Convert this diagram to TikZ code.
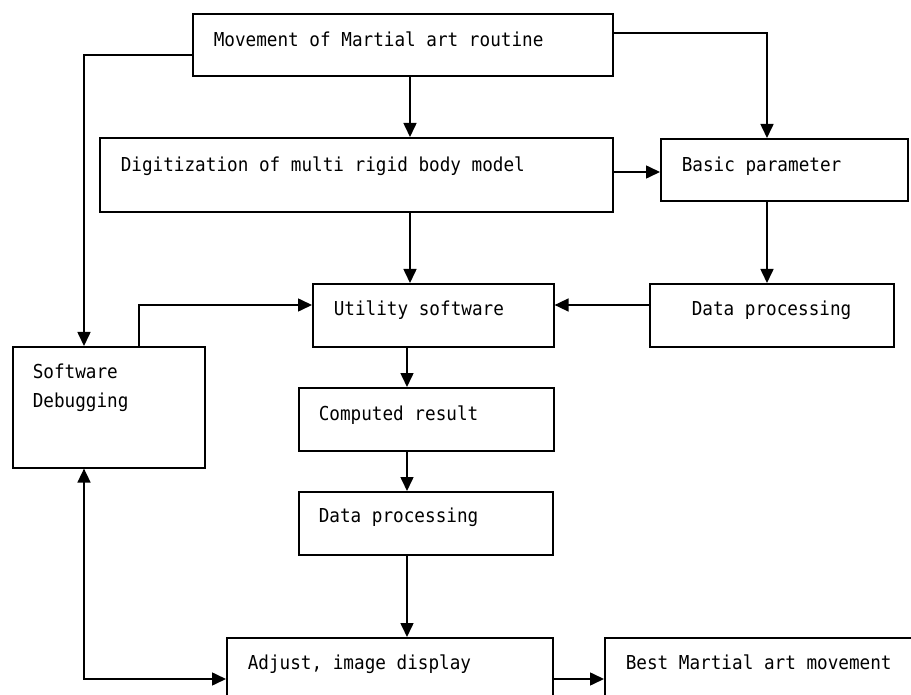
\documentclass[tikz,border=0pt]{standalone}
\usepackage{fontspec}
\setmonofont[FakeStretch=0.92]{DejaVu Sans Mono}
\usetikzlibrary{arrows.meta}
\tikzset{
  box/.style={draw, line width=1.6pt, inner sep=0pt, anchor=north west, align=left,
    font=\ttfamily\fontsize{19.2}{29}\selectfont,
    execute at begin node={\spaceskip=10.63pt\relax}},
  arr/.style={line width=1.6pt, -{Triangle[length=14pt,width=13pt]}},
  darr/.style={line width=1.6pt, {Triangle[length=14pt,width=13pt]}-{Triangle[length=14pt,width=13pt]}},
}
\begin{document}
\begin{tikzpicture}[x=1pt,y=-1pt]
\useasboundingbox (0,0) rectangle (911,695);
\clip (0,0) rectangle (911,695);
\fill[white] (0,0) rectangle (911,695);
% boxes
\node[box, text width=420pt, text height=33pt, text depth=29pt] (b1) at (192,13) {\hspace*{21pt}Movement of Martial art routine};
\node[box, text width=513pt, text height=34pt, text depth=40pt] (b2) at (99,137) {\hspace*{21pt}Digitization of multi rigid body model};
\node[box, text width=247pt, text height=33pt, text depth=29pt] (b3) at (660,138) {\hspace*{21pt}Basic parameter};
\node[box, text width=241pt, text height=32pt, text depth=31pt] (util) at (312,283) {\hspace*{21pt}Utility software};
\node[box, text width=244pt, text height=32pt, text depth=31pt] (dr) at (649,283) {\hspace*{42pt}Data processing};
\node[box, text width=192pt, text height=32pt, text depth=89pt] (soft) at (12,346) {\hspace*{20pt}Software\\\hspace*{20pt}Debugging};
\node[box, text width=255pt, text height=33pt, text depth=30pt] (comp) at (298,387) {\hspace*{20pt}Computed result};
\node[box, text width=254pt, text height=31pt, text depth=32pt] (dm) at (298,491) {\hspace*{20pt}Data processing};
\node[box, text width=326pt, text height=32pt, text depth=48pt] (adj) at (226,637) {\hspace*{21pt}Adjust, image display};
\node[box, text width=330pt, text height=32pt, text depth=48pt] (best) at (604,637) {\hspace*{21pt}Best Martial art movement};
% guide coordinates
\coordinate (cx) at (410,0);
\coordinate (cr) at (767,0);
\coordinate (cl) at (84,0);
\coordinate (cs) at (139,0);
\coordinate (cm) at (407,0);
\coordinate (y1) at (0,33);
\coordinate (y2) at (0,55);
\coordinate (y3) at (0,172);
\coordinate (y4) at (0,305);
\coordinate (y5) at (0,679);
% connectors
\draw[arr] (b1.south -| cx) -- (b2.north -| cx);
\draw[arr] (b1.east |- y1) -| (b3.north -| cr);
\draw[arr] (b1.west |- y2) -| (soft.north -| cl);
\draw[arr] (b2.east |- y3) -- (b3.west |- y3);
\draw[arr] (b2.south -| cx) -- (util.north -| cx);
\draw[arr] (b3.south -| cr) -- (dr.north -| cr);
\draw[arr] (dr.west |- y4) -- (util.east |- y4);
\draw[arr] (soft.north -| cs) |- (util.west |- y4);
\draw[arr] (util.south -| cm) -- (comp.north -| cm);
\draw[arr] (comp.south -| cm) -- (dm.north -| cm);
\draw[arr] (dm.south -| cm) -- (adj.north -| cm);
\draw[darr] (soft.south -| cl) |- (adj.west |- y5);
\draw[arr] (adj.east |- y5) -- (best.west |- y5);
\end{tikzpicture}
\end{document}
